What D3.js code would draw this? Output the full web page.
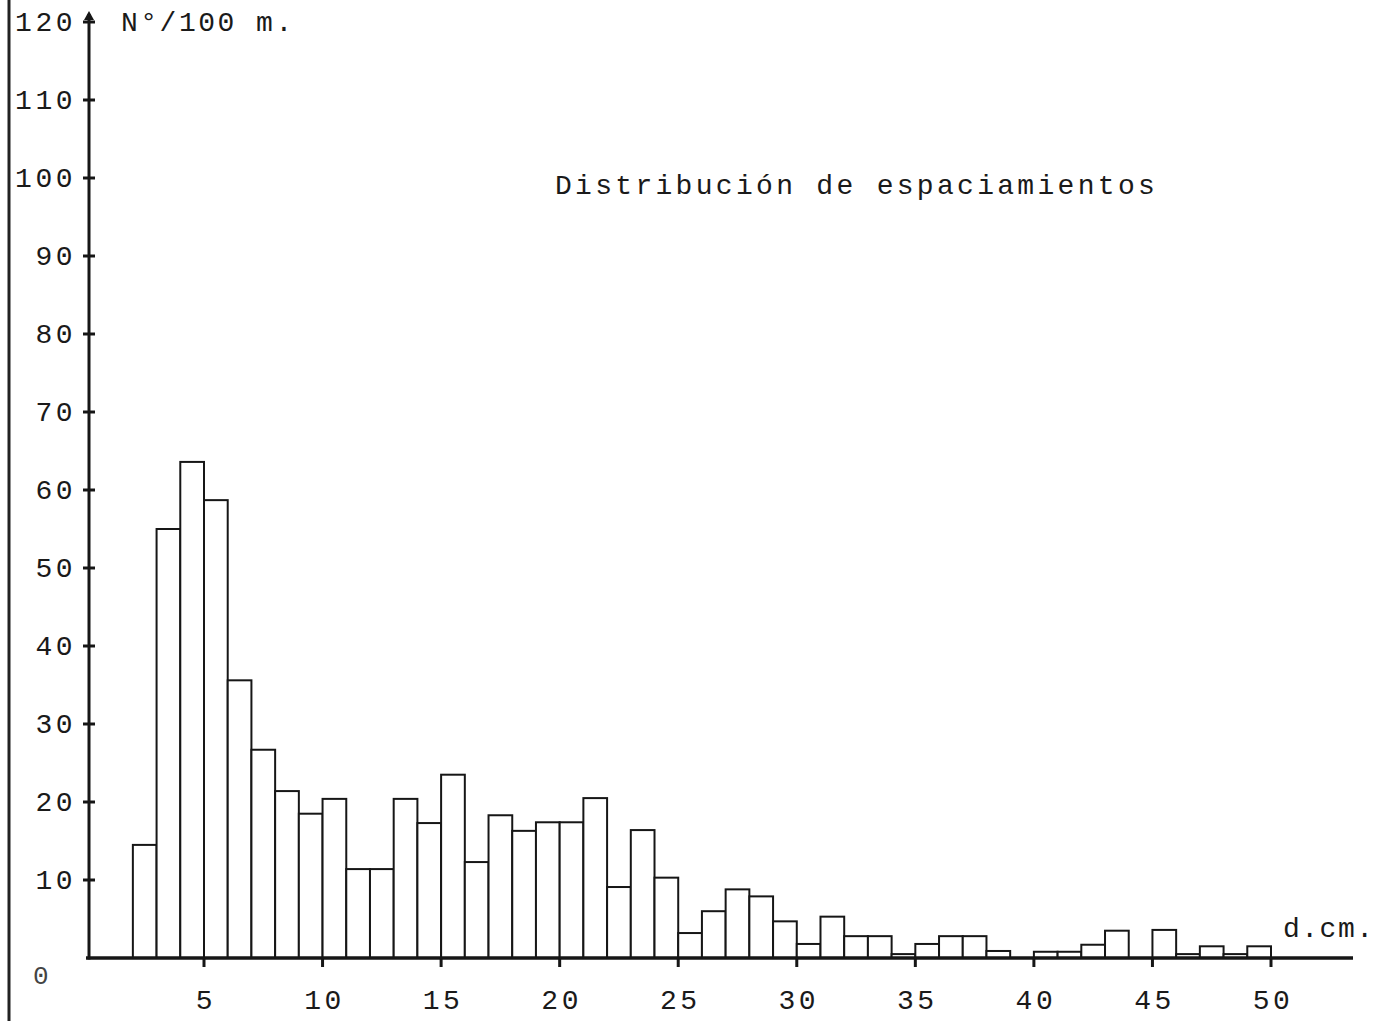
<!DOCTYPE html>
<html>
<head>
<meta charset="utf-8">
<script src="https://cdn.jsdelivr.net/npm/d3@7/dist/d3.min.js"></script>
<style>
  body { margin: 0; background: #fff; }
  svg { display: block; }
  text { font-family: "Liberation Mono", "Courier New", monospace; fill: #1a1a1a; }
</style>
</head>
<body>
<div id="chart"></div>
<script>
// spacing class (cm), one bar per 1 cm bin starting at this value
const binStart = [2, 3, 4, 5, 6, 7, 8, 9, 10, 11, 12, 13, 14, 15, 16, 17, 18, 19, 20, 21,
  22, 23, 24, 25, 26, 27, 28, 29, 30, 31, 32, 33, 34, 35, 36, 37, 38, 39, 40, 41,
  42, 43, 44, 45, 46, 47, 48, 49];
// number per 100 m
const perHundredM = [14.5, 55, 63.6, 58.7, 35.6, 26.7, 21.4, 18.5, 20.4, 11.4, 11.4, 20.4, 17.3, 23.5, 12.3, 18.3, 16.3, 17.4, 17.4, 20.5,
  9.1, 16.4, 10.3, 3.2, 6.0, 8.8, 7.9, 4.7, 1.8, 5.3, 2.8, 2.8, 0.5, 1.8, 2.8, 2.8, 0.9, 0, 0.8, 0.8,
  1.7, 3.5, 0, 3.6, 0.5, 1.5, 0.5, 1.5];

const yTicks = [10, 20, 30, 40, 50, 60, 70, 80, 90, 100, 110, 120];
const xTicks = [5, 10, 15, 20, 25, 30, 35, 40, 45, 50];

const title = "Distribución de espaciamientos";
const yUnit = "N°/100 m.";
const xUnit = "d.cm.";

const W = 1382, H = 1021;
const axisX = 89, axisY = 958;
const ink = "#161616";

const svg = d3.select("#chart").append("svg")
  .attr("width", W)
  .attr("height", H);

const x = d3.scaleLinear().domain([5, 50]).range([204, 1271]);
const y = d3.scaleLinear().domain([0, 120]).range([axisY, 22]);

// page edge from the scan
svg.append("line")
  .attr("x1", 9).attr("x2", 9).attr("y1", 0).attr("y2", H)
  .attr("stroke", "#222").attr("stroke-width", 3);

const data = binStart.map((s, i) => ({ s, v: perHundredM[i] })).filter(d => d.v > 0);

svg.append("g")
  .selectAll("rect")
  .data(data)
  .join("rect")
  .attr("x", d => x(d.s))
  .attr("y", d => y(d.v))
  .attr("width", d => x(d.s + 1) - x(d.s))
  .attr("height", d => y(0) - y(d.v))
  .attr("fill", "#fff")
  .attr("stroke", ink)
  .attr("stroke-width", 2);

// y axis, hand-drawn look: line with an arrow on top and small crossing ticks
svg.append("line")
  .attr("x1", axisX).attr("x2", axisX).attr("y1", 14).attr("y2", axisY + 1.5)
  .attr("stroke", ink).attr("stroke-width", 3);
svg.append("path")
  .attr("d", `M${axisX - 5},${y(120) - 2} L${axisX},${y(120) - 11} L${axisX + 5},${y(120) - 2} Z`)
  .attr("fill", ink);

svg.append("g")
  .selectAll("line")
  .data(yTicks)
  .join("line")
  .attr("x1", axisX - 6).attr("x2", axisX + 6)
  .attr("y1", d => y(d)).attr("y2", d => y(d))
  .attr("stroke", ink).attr("stroke-width", 3);

svg.append("g")
  .selectAll("text")
  .data(yTicks)
  .join("text")
  .attr("x", 76)
  .attr("y", d => y(d) + 9)
  .attr("text-anchor", "end")
  .style("font-size", "28px")
  .style("letter-spacing", "3.5px")
  .text(d => d);

svg.append("text")
  .attr("x", 33).attr("y", y(0) + 26)
  .style("font-size", "26px")
  .style("fill", "#444")
  .text("0");

// x axis
svg.append("line")
  .attr("x1", axisX - 3).attr("x2", 1353).attr("y1", axisY).attr("y2", axisY)
  .attr("stroke", ink).attr("stroke-width", 3.5);

svg.append("g")
  .selectAll("line")
  .data(xTicks)
  .join("line")
  .attr("x1", d => x(d)).attr("x2", d => x(d))
  .attr("y1", axisY).attr("y2", axisY + 9)
  .attr("stroke", ink).attr("stroke-width", 3);

svg.append("g")
  .selectAll("text")
  .data(xTicks)
  .join("text")
  .attr("x", d => x(d) + 2)
  .attr("y", 1009)
  .attr("text-anchor", "middle")
  .style("font-size", "28px")
  .style("letter-spacing", "3.5px")
  .text(d => d);

svg.append("text")
  .attr("x", 121).attr("y", 31)
  .style("font-size", "28px")
  .style("letter-spacing", "2.5px")
  .text(yUnit);

svg.append("text")
  .attr("x", 1283).attr("y", 937)
  .style("font-size", "28px")
  .style("letter-spacing", "1.5px")
  .text(xUnit);

svg.append("text")
  .attr("x", 555).attr("y", 194)
  .style("font-size", "28px")
  .style("letter-spacing", "3.3px")
  .text(title);
</script>
</body>
</html>
